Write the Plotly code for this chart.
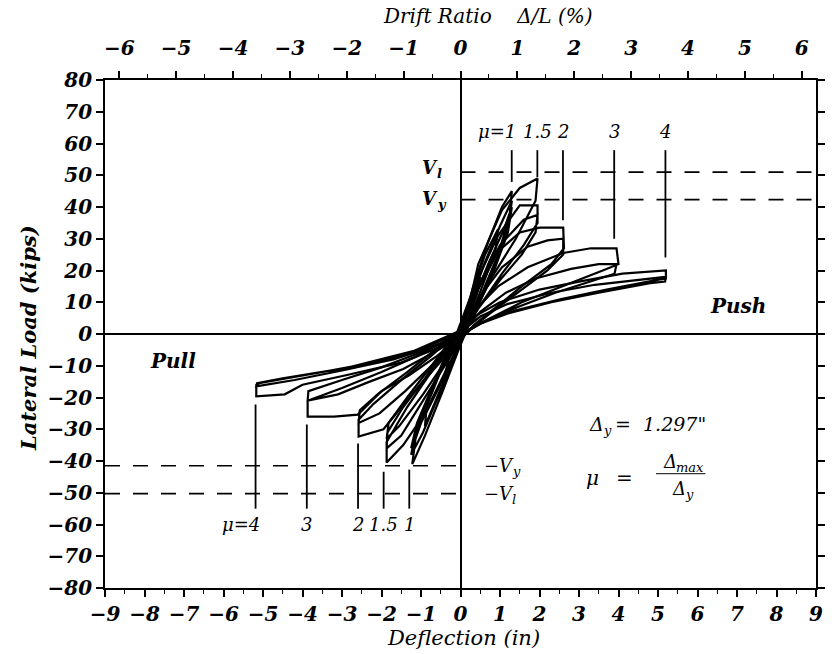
import plotly.graph_objects as go

# ---------------- data ----------------
delta_y = 1.297            # yield displacement (in)
span_L = 144.0             # height used for drift ratio (in)
mu_levels = [1, 1.5, 2, 3, 4]
V_l = 51.0                 # ultimate load level (kips)
V_y = 42.3                 # yield load level (kips)
neg_V_y = -41.5
neg_V_l = -50.3

push_mark_top = [57.9, 57.9, 57.9, 57.9, 57.9]
push_mark_bot = [47.9, 49.4, 35.8, 30.0, 24.1]
pull_mark_top = [-42.7, -43.4, -34.5, -28.5, -22.2]
pull_mark_bot = [-55.0, -55.0, -55.0, -55.0, -55.0]
push_label_y = 63.7
pull_label_y = -60.0

x_ticks = list(range(-9, 10))
y_ticks = list(range(-80, 90, 10))
drift_ticks = list(range(-6, 7))

# hysteresis loops (deflection in, load kips)
cycA_x = [0.0, 0.2, 0.42, 0.5, 0.4, 0.2, 0.0, -0.25, -0.44, -0.48, -0.3, -0.1, 0.05]
cycA_y = [0, 7, 15, 18, 12, 5, -1, -10, -16, -17, -8, -1, 2]

cycB_x = [0.05, 0.3, 0.62, 0.95, 0.88, 0.55, 0.25, -0.05, -0.45, -0.9, -0.85, -0.5, -0.2, 0.0]
cycB_y = [2, 13, 25, 33, 26, 15, 5, -4, -16, -29, -22, -11, -3, 1]

cycC_x = [0.0, 0.3, 0.7, 1.05, 1.3, 1.24, 0.95, 0.55, 0.25, -0.05, -0.45, -0.9, -1.22, -1.14, -0.8, -0.45, -0.15,
          0.2, 0.6, 1.0, 1.3, 1.22, 0.9, 0.5, 0.2, -0.1, -0.5, -0.95, -1.25, -1.12, -0.75, -0.4, -0.1,
          0.25, 0.7, 1.1, 1.3, 1.2, 0.85, 0.45, 0.15, -0.15, -0.55, -1.0, -1.25, -1.1, -0.7, -0.35, 0.0]
cycC_y = [0, 14, 29, 40, 45, 37, 25, 13, 4, -5, -18, -32, -41, -33, -21, -10, -2,
          8, 22, 34, 42, 34, 22, 11, 3, -6, -18, -31, -38, -30, -18, -8, 0,
          8, 22, 33, 40, 32, 20, 9, 2, -6, -17, -28, -36, -28, -16, -6, 2]

cycD_x = [0.1, 0.45, 1.05, 1.5, 1.95, 1.9, 1.4, 0.8, 0.4, 0.1, -0.35, -0.9, -1.45, -1.87, -1.87, -1.35, -0.8, -0.4, -0.1,
          0.35, 0.95, 1.5, 1.95, 1.95, 1.6, 1.05, 0.5, 0.15, -0.3, -0.9, -1.5, -1.87, -1.85, -1.45, -0.9, -0.45, -0.1,
          0.4, 1.0, 1.6, 1.95, 1.9, 1.55, 1.0, 0.45, 0.1, -0.35, -0.95, -1.55, -1.87, -1.82, -1.35, -0.8, -0.35, 0.0]
cycD_y = [3, 22, 39, 46, 49, 42, 30, 18, 8, 0, -11, -25, -35, -40.5, -34, -23, -13, -6, 0,
          15, 31, 40.5, 40.5, 35, 28, 19, 9, 2, -8, -20, -32, -36, -31, -23, -14, -6, 0,
          14, 28, 36, 37.5, 32, 25, 17, 8, 1, -8, -19, -29, -33, -28, -20, -11, -4, 2]

cycE_x = [0.15, 0.45, 0.95, 1.5, 2.0, 2.6, 2.62, 2.3, 1.55, 0.85, 0.35, -0.1, -0.6, -1.3, -1.95, -2.58, -2.58, -2.2, -1.45, -0.75, -0.3,
          0.05, 0.5, 1.05, 1.7, 2.2, 2.6, 2.6, 2.2, 1.45, 0.75, 0.3, -0.1, -0.65, -1.4, -2.05, -2.58, -2.55, -2.1, -1.35, -0.65, -0.2]
cycE_y = [3, 14, 26, 32, 33.5, 33.5, 27, 22, 15, 8, 3, -3, -10, -20, -30, -32.3, -27, -22, -14, -7, -2,
          1, 12, 21, 27.5, 29.5, 30, 25, 20, 13, 6.5, 2, -3, -9, -18, -25, -28, -24, -19, -12, -5, -1]

cycF_x = [0.1, 0.4, 0.95, 1.7, 2.6, 3.3, 3.95, 4.0, 3.6, 2.6, 1.55, 0.75, 0.3, -0.1, -0.6, -1.3, -2.0, -2.6, -3.2, -3.87, -3.87, -3.0, -2.0, -1.1, -0.5, -0.15,
          0.15, 0.5, 1.15, 1.9, 2.8, 3.5, 3.95, 3.9, 3.4, 2.4, 1.45, 0.7, 0.25, -0.15, -0.7, -1.45, -2.3, -3.1, -3.87, -3.85, -3.0, -2.0, -1.05, -0.45, -0.1]
cycF_y = [2, 8, 15, 21, 25.5, 27, 27, 22, 20, 15, 10, 5, 2, -2, -7, -13, -18, -25.4, -26, -26, -21, -17, -12, -7, -3, 0,
          2, 7, 13, 17.5, 20.5, 22, 22, 19, 17, 13, 8.5, 4.5, 1.5, -2, -6, -11, -15, -19, -21, -18, -14.5, -10.5, -6, -2.5, 0]

cycG_x = [0.1, 0.35, 1.0, 2.0, 3.0, 4.1, 5.2, 5.2, 5.05, 3.7, 2.55, 1.4, 0.6, 0.2, -0.2, -0.7, -1.5, -2.9, -4.0, -4.45, -5.17, -5.17, -5.1, -4.1, -2.9, -1.2, -0.55, -0.2,
          0.15, 0.5, 1.2, 2.3, 3.4, 4.4, 5.2, 5.18, 4.8, 3.5, 2.3, 1.2, 0.55, 0.15, -0.25, -0.8, -1.7, -3.0, -4.2, -5.17, -5.15, -4.5, -3.3, -2.0, -0.9, -0.4, -0.1]
cycG_y = [2, 5.5, 10, 14, 16.5, 19, 20, 17.5, 17.2, 14, 11, 7.5, 4, 1, -2, -5, -9, -13, -16, -19, -19.6, -16, -15.5, -13.3, -10.7, -5.4, -2, 0,
          2, 5.5, 9.5, 13, 15.5, 17, 18, 16.5, 16, 13, 10, 6.5, 3.5, 1, -2, -4.5, -8, -11.5, -14.5, -16.5, -15.5, -14, -11.5, -8.5, -4.5, -1.5, 0.5]

loops = [(cycA_x, cycA_y), (cycB_x, cycB_y), (cycC_x, cycC_y), (cycD_x, cycD_y),
         (cycE_x, cycE_y), (cycF_x, cycF_y), (cycG_x, cycG_y)]

# ---------------- figure ----------------
SERIF = "DejaVu Serif"
fig = go.Figure()

for lx, ly in loops:
    fig.add_trace(go.Scatter(x=lx, y=ly, mode="lines",
                             line=dict(color="black", width=2.2),
                             showlegend=False, hoverinfo="skip"))

# ductility marker lines
mx, my = [], []
for m, t, b in zip(mu_levels, push_mark_top, push_mark_bot):
    mx += [m * delta_y, m * delta_y, None]
    my += [t, b, None]
for m, t, b in zip(mu_levels, pull_mark_top, pull_mark_bot):
    mx += [-m * delta_y, -m * delta_y, None]
    my += [t, b, None]
fig.add_trace(go.Scatter(x=mx, y=my, mode="lines", line=dict(color="black", width=1.8),
                         showlegend=False, hoverinfo="skip"))

# dashed load levels
for yv in (V_l, V_y):
    fig.add_trace(go.Scatter(x=[0, 9], y=[yv, yv], mode="lines",
                             line=dict(color="black", width=1.7, dash="15px,13px"),
                             showlegend=False, hoverinfo="skip"))
for yv in (neg_V_y, neg_V_l):
    fig.add_trace(go.Scatter(x=[-9, 0], y=[yv, yv], mode="lines",
                             line=dict(color="black", width=1.7, dash="15px,13px"),
                             showlegend=False, hoverinfo="skip"))

# invisible trace for top drift axis
fig.add_trace(go.Scatter(x=[-6.25, 6.25], y=[0, 0], xaxis="x2", mode="lines",
                         line=dict(width=0), opacity=0, showlegend=False, hoverinfo="skip"))

tickfont = dict(family=SERIF, size=20, color="black", weight="bold", style="italic")

fig.update_layout(
    width=837, height=654,
    margin=dict(l=105, r=12, t=80, b=66),
    paper_bgcolor="white", plot_bgcolor="white",
    xaxis=dict(range=[-9, 9], tickvals=x_ticks, ticks="outside", ticklen=7, tickwidth=1.5,
               tickcolor="black", showline=True, linecolor="black", linewidth=1.8,
               showgrid=False, zeroline=True, zerolinecolor="black", zerolinewidth=1.5,
               tickfont=tickfont,
               minor=dict(dtick=0.5, ticks="outside", ticklen=4, tickcolor="black", tickwidth=1.2)),
    yaxis=dict(range=[-80, 80], tickvals=y_ticks, ticks="outside", ticklen=7, tickwidth=1.5,
               tickcolor="black", showline=True, linecolor="black", linewidth=1.8, mirror="ticks",
               showgrid=False, zeroline=True, zerolinecolor="black", zerolinewidth=1.5,
               tickfont=tickfont),
    xaxis2=dict(overlaying="x", side="top", range=[-9 / span_L * 100, 9 / span_L * 100],
                tickvals=drift_ticks, ticks="outside", ticklen=7, tickwidth=1.5, tickcolor="black",
                showline=True, linecolor="black", linewidth=1.8, showgrid=False, zeroline=False,
                tickfont=tickfont, ticklabelstandoff=8,
                minor=dict(dtick=0.5, ticks="outside", ticklen=4, tickcolor="black", tickwidth=1.2)),
)

W, H = 720.0, 508.0
def px2paper(px, py):
    return (px - 105) / W, (654 - 66 - py) / H

def pa(text, px, py, size=19, weight="normal", textangle=0):
    x_, y_ = px2paper(px, py)
    fig.add_annotation(text=text, x=x_, y=y_, xref="paper", yref="paper", showarrow=False,
                       xanchor="center", yanchor="middle", textangle=textangle,
                       font=dict(family=SERIF, size=size, color="black", style="italic", weight=weight))

pa("Drift Ratio    Δ/L (%)", 493, 16, size=20)
pa("Deflection (in)", 468, 638, size=21)
pa("Lateral Load (kips)", 27, 338, size=21, weight="bold", textangle=-90)

def da(text, x, y, size=17, xanchor="center", weight="normal", xshift=0, yshift=0):
    fig.add_annotation(text=text, x=x, y=y, showarrow=False, xanchor=xanchor, yanchor="middle",
                       xshift=xshift, yshift=yshift,
                       font=dict(family=SERIF, size=size, color="black", style="italic", weight=weight))

def subtext(main, sub, x, y, size, main_w, weight="normal", tail=None, tail_dx=0):
    # main text left-anchored at x, subscript placed right after it
    da(main, x, y, size=size, xanchor="left", weight=weight)
    da(sub, x, y, size=round(size * 0.7), xanchor="left", weight=weight,
       xshift=main_w, yshift=-6)
    if tail is not None:
        da(tail, x, y, size=size, xanchor="left", weight=weight, xshift=tail_dx)

# mu labels
push_lbl = ["μ=1", "1.5", "2", "3", "4"]
pull_lbl = ["1", "1.5", "2", "3", "μ=4"]
for m, t in zip(mu_levels, push_lbl):
    if t.startswith("μ"):
        da(t, m * delta_y, push_label_y, size=18, xanchor="right", xshift=6)
    else:
        da(t, m * delta_y, push_label_y, size=18)
for m, t in zip(mu_levels, pull_lbl):
    if t.startswith("μ"):
        da(t, -m * delta_y, pull_label_y, size=18, xanchor="right", xshift=6)
    else:
        da(t, -m * delta_y, pull_label_y, size=18)

subtext("V", "l", -1.02, V_l + 1.5, 18, 15, weight="bold")
subtext("V", "y", -1.02, V_y + 0.5, 18, 15, weight="bold")
subtext("−V", "y", 0.55, neg_V_y, 18, 28)
subtext("−V", "l", 0.55, neg_V_l, 18, 28)

da("Pull", -7.28, -8.5, size=20, weight="bold")
da("Push", 7.03, 8.9, size=20, weight="bold")

subtext("Δ", "y", 3.2, -28.5, 19, 14, tail="=  1.297\"", tail_dx=26)
da("μ", 3.35, -45.5, size=20)
da("=", 4.15, -45.5, size=20)
subtext("Δ", "max", 5.07, -40.2, 18, 13)
subtext("Δ", "y", 5.3, -48.7, 18, 13)
fig.add_trace(go.Scatter(x=[4.95, 6.2], y=[-44, -44], mode="lines",
                         line=dict(color="black", width=1), showlegend=False, hoverinfo="skip"))

fig.write_html("out.html")
